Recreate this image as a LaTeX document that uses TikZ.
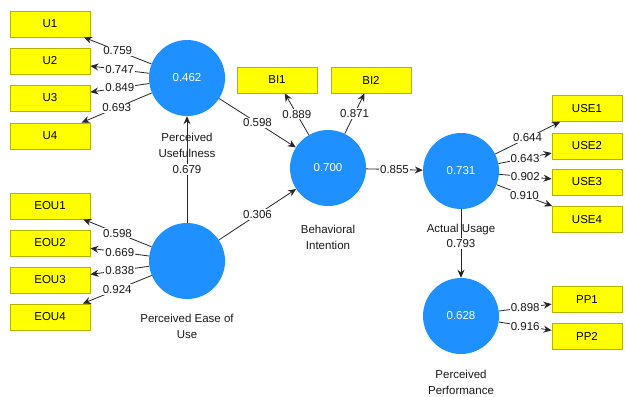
\documentclass[tikz,border=0pt]{standalone}
\usepackage{fontspec}
\setmainfont{Liberation Sans}
\usetikzlibrary{arrows.meta}
\definecolor{lvblue}{RGB}{30,144,255}
\definecolor{mvyellow}{RGB}{255,255,0}
\definecolor{mvborder}{RGB}{180,180,0}
\begin{document}
\begin{tikzpicture}[x=1pt,y=-1pt,
  font=\fontsize{11.5}{16}\selectfont,
  lv/.style={circle, fill=lvblue, minimum size=76pt, inner sep=0pt, text=white},
  mv/.style={rectangle, draw=mvborder, line width=0.8pt, fill=mvyellow, minimum width=80pt, minimum height=26pt, inner sep=0pt},
  usebox/.style={mv, minimum width=70pt},
  arr/.style={draw=black!85, line width=0.8pt, -{Stealth[length=8pt,width=7pt]}},
  lbl/.style={fill=white, inner sep=1pt, text=black!90},
  lvname/.style={align=center, text=black!90, inner sep=0pt}]
\useasboundingbox (0,0) rectangle (626,396);
% latent variables
\node[lv] (PU) at (187,78) {0.462};
\node[lv] (PEOU) at (187,261) {};
\node[lv] (BI) at (328,168) {0.700};
\node[lv] (AU) at (461,171) {0.731};
\node[lv] (PP) at (461,316) {0.628};
% indicators
\node[mv] (U1) at (50,24) {U1};
\node[mv] (U2) at (50,61) {U2};
\node[mv] (U3) at (50,98) {U3};
\node[mv] (U4) at (50,136) {U4};
\node[mv] (EOU1) at (50,206) {EOU1};
\node[mv] (EOU2) at (50,243) {EOU2};
\node[mv] (EOU3) at (50,280) {EOU3};
\node[mv] (EOU4) at (50,317) {EOU4};
\node[mv] (BI1) at (277,80) {BI1};
\node[mv] (BI2) at (371,80) {BI2};
\node[usebox] (USE1) at (587,108.5) {USE1};
\node[usebox] (USE2) at (587,146) {USE2};
\node[usebox] (USE3) at (587,182) {USE3};
\node[usebox] (USE4) at (587,219.5) {USE4};
\node[usebox] (PP1) at (587,299.5) {PP1};
\node[usebox] (PP2) at (587,336) {PP2};
% names
\node[lvname] (PUn) at (187,145) {Perceived\\Usefulness};
\node[lvname] (PEOUn) at (187,326) {Perceived Ease of\\Use};
\node[lvname] (BIn) at (328,237.5) {Behavioral\\Intention};
\node[lvname] (AUn) at (461,230) {Actual Usage};
\node[lvname] (PPn) at (461,382) {Perceived\\Performance};
% loadings
\draw[arr] (PU) -- node[lbl]{0.759} (U1);
\draw[arr] (PU) -- node[lbl]{0.747} (U2);
\draw[arr] (PU) -- node[lbl]{0.849} (U3);
\draw[arr] (PU) -- node[lbl]{0.693} (U4);
\draw[arr] (PEOU) -- node[lbl]{0.598} (EOU1);
\draw[arr] (PEOU) -- node[lbl]{0.669} (EOU2);
\draw[arr] (PEOU) -- node[lbl]{0.838} (EOU3);
\draw[arr] (PEOU) -- node[lbl]{0.924} (EOU4);
\draw[arr] (BI) -- node[lbl]{0.889} (BI1);
\draw[arr] (BI) -- node[lbl]{0.871} (BI2);
\draw[arr] (AU) -- node[lbl]{0.644} (USE1);
\draw[arr] (AU) -- node[lbl]{0.643} (USE2);
\draw[arr] (AU) -- node[lbl]{0.902} (USE3);
\draw[arr] (AU) -- node[lbl]{0.910} (USE4);
\draw[arr] (PP) -- node[lbl]{0.898} (PP1);
\draw[arr] (PP) -- node[lbl]{0.916} (PP2);
% paths
\draw[arr] (PEOU) -- node[lbl]{0.679} (PU);
\draw[arr] (PU) -- node[lbl]{0.598} (BI);
\draw[arr] (PEOU) -- node[lbl]{0.306} (BI);
\draw[arr] (BI) -- node[lbl]{0.855} (AU);
\draw[arr] (AU) -- node[lbl]{0.793} (PP);
\end{tikzpicture}
\end{document}
